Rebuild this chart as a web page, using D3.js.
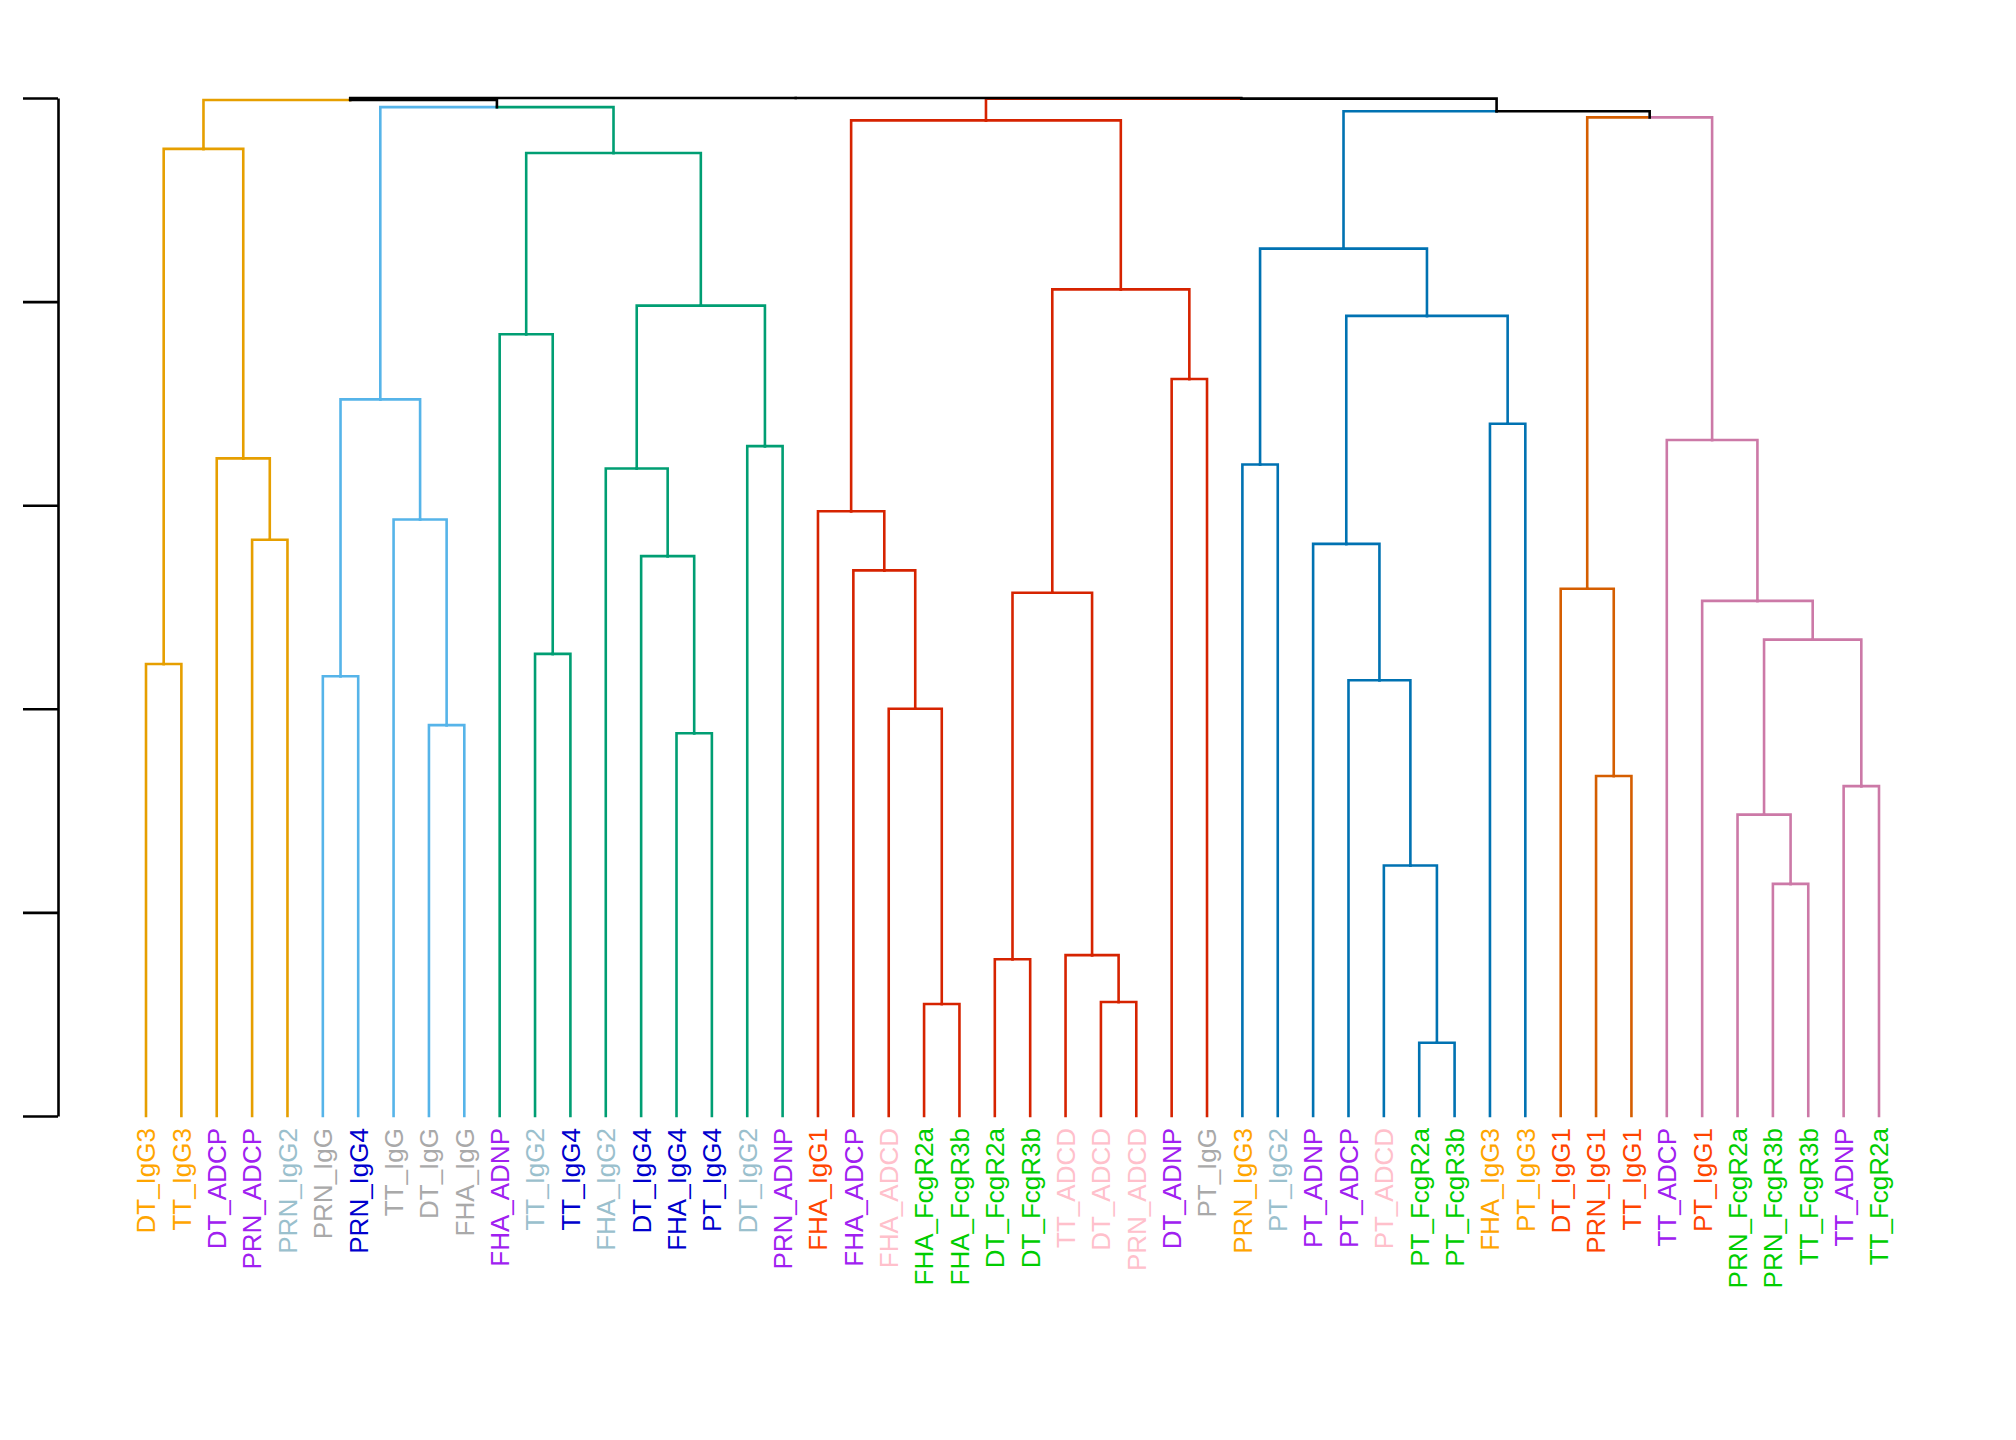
<!DOCTYPE html>
<html>
<head>
<meta charset="utf-8">
<script src="https://cdn.jsdelivr.net/npm/d3@7"></script>
<style>
  body { margin: 0; background: #fff; }
  svg text { font-family: "Liberation Sans", Arial, sans-serif; }
</style>
</head>
<body>
<div id="chart" style="width:2016px;height:1440px"></div>
<script>
// leaves in plotted order
const leafLabels = ["DT_IgG3","TT_IgG3","DT_ADCP","PRN_ADCP","PRN_IgG2","PRN_IgG","PRN_IgG4","TT_IgG","DT_IgG","FHA_IgG",
  "FHA_ADNP","TT_IgG2","TT_IgG4","FHA_IgG2","DT_IgG4","FHA_IgG4","PT_IgG4","DT_IgG2","PRN_ADNP",
  "FHA_IgG1","FHA_ADCP","FHA_ADCD","FHA_FcgR2a","FHA_FcgR3b","DT_FcgR2a","DT_FcgR3b","TT_ADCD","DT_ADCD","PRN_ADCD","DT_ADNP","PT_IgG",
  "PRN_IgG3","PT_IgG2","PT_ADNP","PT_ADCP","PT_ADCD","PT_FcgR2a","PT_FcgR3b","FHA_IgG3","PT_IgG3",
  "DT_IgG1","PRN_IgG1","TT_IgG1",
  "TT_ADCP","PT_IgG1","PRN_FcgR2a","PRN_FcgR3b","TT_FcgR3b","TT_ADNP","TT_FcgR2a"];
const leafColors = ["#FFA500","#FFA500","#A020F0","#A020F0","#9AC0CD","#A9A9A9","#0000CD","#A9A9A9","#A9A9A9","#A9A9A9",
  "#A020F0","#9AC0CD","#0000CD","#9AC0CD","#0000CD","#0000CD","#0000CD","#9AC0CD","#A020F0",
  "#FF4500","#A020F0","#FFC0CB","#00CD00","#00CD00","#00CD00","#00CD00","#FFC0CB","#FFC0CB","#FFC0CB","#A020F0","#A9A9A9",
  "#FFA500","#9AC0CD","#A020F0","#A020F0","#FFC0CB","#00CD00","#00CD00","#FFA500","#FFA500",
  "#FF4500","#FF4500","#FF4500",
  "#A020F0","#FF4500","#00CD00","#00CD00","#00CD00","#A020F0","#00CD00"];

// merges: [left, right, height]; numbers = leaf index, "mN" = merge N
const merges = [
  [0,1,2.22],[3,4,2.83],[2,"m1",3.23],["m0","m2",4.75],
  [5,6,2.16],[8,9,1.92],[7,"m5",2.93],["m4","m6",3.52],
  [11,12,2.27],[10,"m8",3.84],[15,16,1.88],[14,"m10",2.75],[13,"m11",3.18],[17,18,3.29],["m12","m13",3.98],["m9","m14",4.73],
  ["m7","m15",4.955],["m3","m16",4.99],
  [22,23,0.55],[21,"m18",2.0],[20,"m19",2.68],[19,"m20",2.97],[24,25,0.77],[27,28,0.56],[26,"m23",0.79],["m22","m24",2.57],
  [29,30,3.62],["m25","m26",4.06],["m21","m27",4.89],
  [31,32,3.20],[36,37,0.36],[35,"m30",1.23],[34,"m31",2.14],[33,"m32",2.81],[38,39,3.40],["m33","m34",3.93],["m29","m35",4.26],
  [41,42,1.67],[40,"m37",2.59],
  [46,47,1.14],[45,"m39",1.48],[48,49,1.62],["m40","m41",2.34],[44,"m42",2.53],[43,"m43",3.32],
  ["m38","m44",4.905],["m36","m45",4.935],["m28","m46",4.997],["m17","m47",5.0]
];
const mergeColors = [
  "#E69F00","#E69F00","#E69F00","#E69F00",
  "#56B4E9","#56B4E9","#56B4E9","#56B4E9",
  "#009E73","#009E73","#009E73","#009E73","#009E73","#009E73","#009E73","#009E73",
  "#000","#000",
  "#D62300","#D62300","#D62300","#D62300","#D62300","#D62300","#D62300","#D62300","#D62300","#D62300","#D62300",
  "#0072B2","#0072B2","#0072B2","#0072B2","#0072B2","#0072B2","#0072B2","#0072B2",
  "#D55E00","#D55E00",
  "#CC79A7","#CC79A7","#CC79A7","#CC79A7","#CC79A7","#CC79A7",
  "#000","#000","#000","#000"
];
const yTicks = [0,1,2,3,4,5];

const width = 2016, height = 1440;
const svg = d3.select("#chart").append("svg").attr("width", width).attr("height", height);

const x = d3.scaleLinear().domain([0, leafLabels.length - 1]).range([146, 1879]);
const y = d3.scaleLinear().domain([0, 5]).range([1116, 98]);

// axis
svg.append("g")
  .attr("transform", "translate(58,0)")
  .call(d3.axisLeft(y).tickValues(yTicks).tickFormat("").tickSize(35).tickSizeOuter(0))
  .call(g => g.select(".domain").attr("stroke-width", 2.6))
  .call(g => g.selectAll(".tick line").attr("stroke-width", 2.6));

// node positions
const nodes = [];
function ref(r) {
  if (typeof r === "number") return { x: x(r), h: 0, color: null, leaf: r };
  return nodes[+r.slice(1)];
}
merges.forEach((m, i) => {
  const a = ref(m[0]), b = ref(m[1]);
  nodes.push({ x: (a.x + b.x) / 2, h: m[2], color: mergeColors[i], kids: [a, b] });
});

// links: edge color taken from child cluster (leaf edges use parent color)
const segs = [];
nodes.forEach(n => {
  n.kids.forEach(k => {
    const c = k.color || n.color;
    segs.push({ d: `M${n.x},${y(n.h)}H${k.x}V${y(k.h)}`, c: c });
  });
});

svg.append("g").selectAll("path")
  .data(segs)
  .enter().append("path")
  .attr("d", d => d.d)
  .attr("fill", "none")
  .attr("stroke", d => d.c)
  .attr("stroke-width", 2.6)
  .attr("stroke-linecap", "square");

// labels
svg.append("g").selectAll("text")
  .data(leafLabels)
  .enter().append("text")
  .attr("transform", (d, i) => `translate(${x(i)},1128) rotate(-90)`)
  .attr("text-anchor", "end")
  .attr("dy", "0.36em")
  .attr("font-size", "26px")
  .attr("fill", (d, i) => leafColors[i])
  .text(d => d);
</script>
</body>
</html>
